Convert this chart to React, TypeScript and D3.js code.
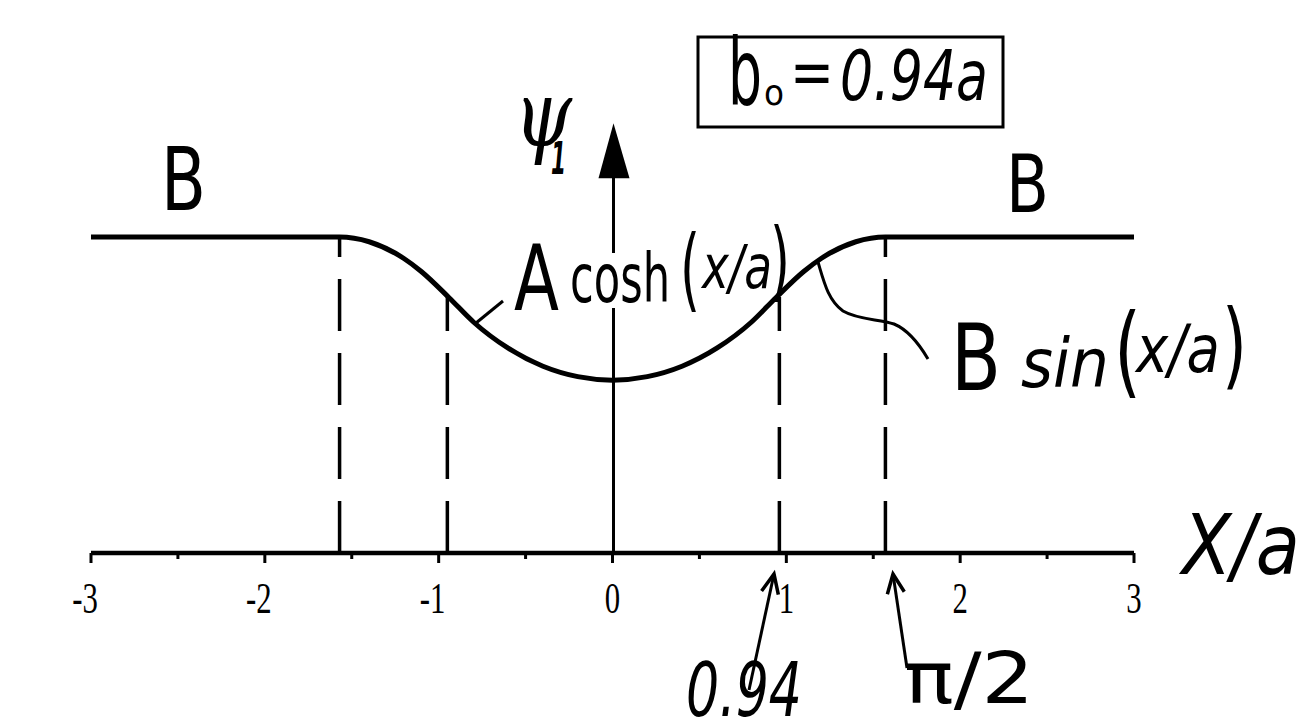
import React from 'react';
import * as d3 from 'd3';

// ---- data ----
const xTicks = [-3, -2, -1, 0, 1, 2, 3];
const xTickLabels = ['-3', '-2', '-1', '0', '1', '2', '3'];
const xMinorTicks = [-2.5, -1.5, -0.5, 0.5, 1.5, 2.5];
// psi_1(x/a), normalised to B = 1
const psiX = [-3, -1.57, -1.4, -1.2, -1.1, -0.94, -0.8, -0.6, -0.4, -0.2, 0, 0.2, 0.4, 0.6, 0.8, 0.94, 1.1, 1.2, 1.4, 1.57, 3];
const psiY = [1, 1, 0.985, 0.932, 0.891, 0.808, 0.731, 0.648, 0.591, 0.558, 0.547, 0.558, 0.591, 0.648, 0.731, 0.808, 0.891, 0.932, 0.985, 1, 1];
// dashed boundaries
const boundaryX = [-1.57, -0.95, 0.96, 1.57];
const boundaryY = [1, 0.81, 0.81, 1];
const yAxisTop = 1.36;

const W = 1312;
const H = 718;

const HAND = '"DejaVu Sans", "Open Sans", sans-serif';

type PieceProps = { x: number; y: number; size: number; w: number; children: React.ReactNode; italic?: boolean; bold?: boolean; family?: string };
const Piece = ({ x, y, size, w, children, italic, bold, family }: PieceProps) => (
  <text
    x={x}
    y={y}
    fontSize={size}
    fontFamily={family || HAND}
    fontStyle={italic ? 'italic' : 'normal'}
    fontWeight={bold ? 'bold' : 'normal'}
    textLength={w}
    lengthAdjust="spacingAndGlyphs"
    fill="#000"
  >
    {children}
  </text>
);

export default function App() {
  const x = d3.scaleLinear().domain([-3, 3]).range([91, 1134]);
  const y = d3.scaleLinear().domain([0, 1]).range([553, 237]);

  const pts: [number, number][] = psiX.map((v, i) => [v, psiY[i]]);
  const line = d3
    .line<[number, number]>()
    .x((d) => x(d[0]))
    .y((d) => y(d[1]))
    .curve(d3.curveMonotoneX);

  const x0 = x(0) + 1;
  const tipY = y(yAxisTop);

  const arrowHead = (tx: number, ty: number, fx: number, fy: number, len = 21, ang = 0.42) => {
    const a = Math.atan2(fy - ty, fx - tx);
    const p1 = [tx + len * Math.cos(a - ang), ty + len * Math.sin(a - ang)];
    const p2 = [tx + len * Math.cos(a + ang), ty + len * Math.sin(a + ang)];
    return `M${p1[0]},${p1[1]}L${tx},${ty}L${p2[0]},${p2[1]}`;
  };

  return (
    <svg width={W} height={H} style={{ position: 'absolute', left: 0, top: 0, background: '#fff' }}>
      <rect x={0} y={0} width={W} height={H} fill="#fff" />

      {/* vertical axis */}
      <line x1={x0} x2={x0} y1={y(0)} y2={tipY + 50} stroke="#000" strokeWidth={3} />
      <path d={`M${x0},${tipY}L${x0 - 15},${tipY + 55}L${x0 + 16},${tipY + 55}Z`} fill="#000" />

      {/* dashed boundaries */}
      {boundaryX.map((b, i) => (
        <line
          key={i}
          x1={x(b)}
          x2={x(b)}
          y1={y(0)}
          y2={y(boundaryY[i])}
          stroke="#000"
          strokeWidth={3.5}
          strokeDasharray="52 22"
        />
      ))}

      {/* x axis */}
      <line x1={x(-3)} x2={x(3)} y1={y(0)} y2={y(0)} stroke="#000" strokeWidth={4.5} />
      {xTicks.map((t) => (
        <line key={'t' + t} x1={x(t)} x2={x(t)} y1={y(0)} y2={y(0) + 10} stroke="#000" strokeWidth={3} />
      ))}
      {xMinorTicks.map((t) => (
        <line key={'m' + t} x1={x(t)} x2={x(t)} y1={y(0)} y2={y(0) + 6} stroke="#000" strokeWidth={3} />
      ))}
      {xTicks.map((t, i) => (
        <text
          key={'l' + t}
          transform={`translate(${x(t) + (t < 0 ? -6 : 0)},${y(0) + 60}) scale(0.7,1)`}
          textAnchor="middle"
          fontFamily='"Liberation Serif", "DejaVu Serif", serif'
          fontSize={44}
          fill="#000"
        >
          {xTickLabels[i]}
        </text>
      ))}

      {/* curve */}
      <path d={line(pts) || ''} fill="none" stroke="#000" strokeWidth={5} />

      {/* white gap behind label on the axis */}
      <rect x={x0 - 6} y={253} width={12} height={55} fill="#fff" />

      {/* psi_1 label */}
      <Piece x={514} y={146} size={92} w={58} italic family='"DejaVu Serif", serif'>ψ</Piece>
      <Piece x={551} y={174} size={44} w={15} bold italic>1</Piece>

      {/* box b0 = 0.94a */}
      <rect x={698} y={37} width={305} height={90} fill="none" stroke="#000" strokeWidth={3} />
      <Piece x={728} y={105} size={92} w={34}>b</Piece>
      <Piece x={764} y={105} size={36} w={20}>o</Piece>
      <Piece x={790} y={94} size={64} w={44}>=</Piece>
      <Piece x={840} y={100} size={70} w={148} italic>0.94a</Piece>

      {/* B labels */}
      <Piece x={161} y={210} size={88} w={45}>B</Piece>
      <Piece x={1006} y={212} size={80} w={43}>B</Piece>

      {/* A cosh(x/a) */}
      <Piece x={514} y={310} size={90} w={45}>A</Piece>
      <Piece x={570} y={302} size={68} w={100}>cosh</Piece>
      <Piece x={680} y={300} size={90} w={20}>(</Piece>
      <Piece x={702} y={288} size={60} w={70} italic>x/a</Piece>
      <Piece x={770} y={290} size={88} w={20}>)</Piece>
      <path d="M476,323L503,301" stroke="#000" strokeWidth={3} fill="none" />

      {/* B sin(x/a) */}
      <Piece x={951} y={390} size={92} w={50}>B</Piece>
      <Piece x={1021} y={387} size={68} w={88} italic>sin</Piece>
      <Piece x={1114} y={385} size={100} w={27}>(</Piece>
      <Piece x={1136} y={372} size={66} w={84} italic>x/a</Piece>
      <Piece x={1222} y={377} size={94} w={25}>)</Piece>
      <path
        d="M818,262C824,282 828,300 843,311C858,320 880,319 894,324C906,329 918,342 928,359"
        stroke="#000"
        strokeWidth={3}
        fill="none"
      />

      {/* axis title X/a */}
      <Piece x={1182} y={574} size={84} w={118} italic>X/a</Piece>

      {/* bottom annotations */}
      <path d="M749,690L774,574" stroke="#000" strokeWidth={3} fill="none" />
      <path d={arrowHead(774, 574, 749, 690)} stroke="#000" strokeWidth={3.5} fill="none" />
      <Piece x={686} y={716} size={74} w={116} italic>0.94</Piece>

      <path d="M907,668L893,574" stroke="#000" strokeWidth={3} fill="none" />
      <path d={arrowHead(893, 574, 907, 668)} stroke="#000" strokeWidth={3.5} fill="none" />
      <Piece x={904} y={703} size={72} w={130}>π/2</Piece>
    </svg>
  );
}
